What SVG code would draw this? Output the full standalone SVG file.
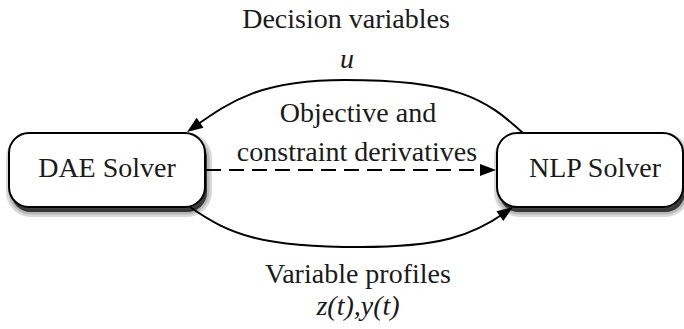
<svg xmlns="http://www.w3.org/2000/svg" width="684" height="329" viewBox="0 0 684 329">
<style>
text{font-size:28px;fill:#1a1a1a;text-anchor:middle}
.it{font-style:italic}
.box{fill:#fff;stroke:#000;stroke-width:2}
.sh{fill:#000;fill-opacity:0.45;stroke:#000;stroke-opacity:0.15}
.edge{fill:none;stroke:#000;stroke-width:2}
</style>
<defs>
<path id="ah" d="M0 0 L-16 -6 L-16 6 Z" fill="#000"/>
</defs>
<g id="connectors">
<path class="edge" d="M523 133 C485 98 455 80 345 80 C262 80 232 100 194 127"/>
<use href="#ah" transform="translate(187 132) rotate(144.8)"/>
<path class="edge" d="M206 170 L488 170" stroke-dasharray="15 8"/>
<use href="#ah" transform="translate(496 170)"/>
<path class="edge" d="M190 207 C230 235 262 247 360 247 C440 247 472 236 506 212"/>
<use href="#ah" transform="translate(513 207) rotate(-35)"/>
</g>
<g id="dae">
<rect class="sh" x="11" y="138" width="196" height="74" rx="20" stroke-width="10"/>
<rect class="sh" x="11" y="138" width="196" height="74" rx="20" stroke-width="5"/>
<rect class="box" x="9" y="133" width="196" height="74" rx="20"/>
</g>
<g id="nlp">
<rect class="sh" x="499" y="138" width="186" height="74" rx="20" stroke-width="10"/>
<rect class="sh" x="499" y="138" width="186" height="74" rx="20" stroke-width="5"/>
<rect class="box" x="497" y="133" width="186" height="74" rx="20"/>
</g>
<text font-family="Times New Roman" x="346" y="28">Decision variables</text>
<text font-family="Times New Roman" x="347" y="68" font-style="italic">u</text>
<text font-family="Times New Roman" x="107" y="177">DAE Solver</text>
<text font-family="Times New Roman" x="595" y="177">NLP Solver</text>
<text font-family="Times New Roman" x="358" y="122">Objective and</text>
<text font-family="Times New Roman" x="357" y="161">constraint derivatives</text>
<text font-family="Times New Roman" x="358" y="283">Variable profiles</text>
<text font-family="Times New Roman" x="358" y="315" font-style="italic">z(t),y(t)</text>
</svg>
